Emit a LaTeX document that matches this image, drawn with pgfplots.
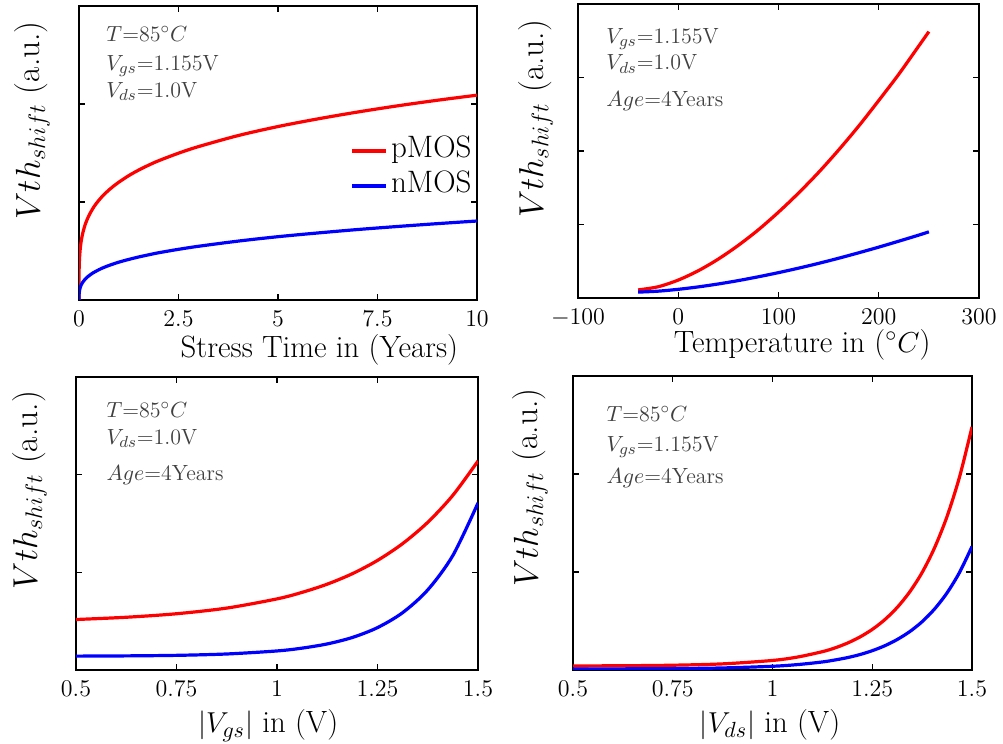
\documentclass[border=0pt]{standalone}
\usepackage{pgfplots}
\pgfplotsset{compat=1.18}

\pgfplotstableread{
t p n
0 0 0
0.002 0.271 0.053
0.005 0.337 0.071
0.01 0.398 0.088
0.02 0.470 0.110
0.03 0.518 0.126
0.045 0.571 0.143
0.06 0.612 0.157
0.08 0.656 0.172
0.1 0.692 0.185
0.15 0.763 0.210
0.2 0.817 0.231
0.27 0.878 0.254
0.35 0.935 0.276
0.42 0.977 0.292
0.5 1.018 0.309
0.6 1.064 0.328
0.75 1.122 0.352
0.85 1.156 0.366
1 1.202 0.386
1.25 1.269 0.414
1.5 1.326 0.439
1.75 1.376 0.461
2 1.421 0.482
2.5 1.498 0.517
3 1.565 0.548
4 1.678 0.601
5 1.770 0.646
6 1.848 0.684
7 1.918 0.719
8 1.981 0.750
9 2.038 0.779
10 2.090 0.806
}\tabtime

\pgfplotstableread{
T p
-40 0.110
-20 0.153
0 0.244
20 0.371
40 0.530
60 0.717
80 0.929
100 1.168
120 1.428
140 1.709
160 2.014
180 2.339
200 2.687
220 3.045
240 3.430
250 3.624
}\tabtempp

\pgfplotstableread{
T n
-40 0.080
-20 0.093
0 0.118
20 0.151
40 0.191
60 0.237
80 0.289
100 0.345
120 0.406
140 0.471
160 0.541
180 0.615
200 0.692
220 0.773
240 0.856
250 0.900
}\tabtempn

\pgfplotstableread{
v p n
0.5 0.517 0.142
0.625 0.540 0.1445
0.75 0.576 0.150
0.875 0.634 0.164
1.0 0.728 0.195
1.0625 0.795 0.224
1.125 0.879 0.267
1.1875 0.986 0.333
1.25 1.122 0.434
1.3125 1.294 0.587
1.375 1.512 0.820
1.4375 1.789 1.173
1.5 2.140 1.710
}\tabvgs

\pgfplotstableread{
v p n
0.5 0.0413 0.0106
0.625 0.0434 0.0116
0.75 0.0488 0.0142
0.875 0.0625 0.0208
1.0 0.0974 0.038
1.0625 0.132 0.055
1.125 0.187 0.082
1.15625 0.225 0.102
1.1875 0.274 0.126
1.21875 0.336 0.157
1.25 0.414 0.197
1.28125 0.513 0.247
1.3125 0.638 0.311
1.34375 0.796 0.391
1.375 0.995 0.493
1.40625 1.248 0.623
1.4375 1.567 0.787
1.46875 1.970 0.996
1.5 2.480 1.260
}\tabvds

\definecolor{anno}{RGB}{64,64,64}

\pgfplotsset{
  mystyle/.style={
    scale only axis,
    anchor=south west,
    axis line style={line width=0.75pt},
    tick style={line width=0.6pt, black},
    major tick length=3pt,
    tick pos=both,
    tick align=inside,
    yticklabels={},
    ticklabel style={font=\fontsize{12.75}{15}\selectfont},
    xticklabel style={yshift=-2pt},
    xlabel style={font=\fontsize{15.4}{18}\selectfont, anchor=base},
    ylabel style={font=\fontsize{16.7}{19}\selectfont, anchor=base, rotate=0},
    every axis plot/.append style={line width=1.6pt, no markers, smooth},
    clip=true,
  },
}

\newcommand{\ann}{\fontsize{11}{13}\selectfont\color{anno}}

\begin{document}
\begin{tikzpicture}
\useasboundingbox (0,0) rectangle (501.5pt,372pt);

% Panel 1
\begin{axis}[mystyle,
  at={(39.5pt,222pt)}, width=199pt, height=147pt,
  xmin=0, xmax=10, ymin=0, ymax=3,
  xtick={0,2.5,5,7.5,10}, ytick={1,2},
  xlabel={Stress Time in (Years)},
  xlabel style={at={(axis description cs:0.604,-0.194)}},
  ylabel={$Vth_{shift}$ (a.u.)},
  ylabel style={at={(axis description cs:-0.098,0.611)}},
  legend style={draw=none, fill=none, inner sep=0pt, row sep=0pt,
    at={(axis description cs:0.987,0.568)}, anchor=north east,
    font=\fontsize{15.5}{17.5}\selectfont,
    nodes={inner sep=0pt, text height=12pt, text depth=5.5pt},
    column sep=1.5pt},
  legend cell align=left,
  legend image code/.code={\draw[#1, line width=1.6pt] (0pt,0pt) -- (17pt,0pt);},
]
\addplot[red] table[x=t, y=p] {\tabtime};
\addlegendentry{pMOS}
\addplot[blue] table[x=t, y=n] {\tabtime};
\addlegendentry{nMOS}
\node[anchor=base west, font=\ann, inner sep=0pt] at (rel axis cs:0.068,0.878) {$T$=85$^\circ C$};
\node[anchor=base west, font=\ann, inner sep=0pt] at (rel axis cs:0.068,0.782) {$V_{gs}$=1.155V};
\node[anchor=base west, font=\ann, inner sep=0pt] at (rel axis cs:0.068,0.690) {$V_{ds}$=1.0V};
\end{axis}

% Panel 2
\begin{axis}[mystyle,
  at={(289pt,223pt)}, width=200.5pt, height=147pt,
  xmin=-100, xmax=300, ymin=0, ymax=4,
  xtick={-100,0,100,200,300}, ytick={1,2,3},
  xlabel={Temperature in ($^\circ C$)},
  xlabel style={at={(axis description cs:0.559,-0.184)}},
  ylabel={$Vth_{shift}$ (a.u.)},
  ylabel style={at={(axis description cs:-0.087,0.609)}},
]
\addplot[red] table[x=T, y=p] {\tabtempp};
\addplot[blue] table[x=T, y=n] {\tabtempn};
\node[anchor=base west, font=\ann, inner sep=0pt] at (rel axis cs:0.070,0.867) {$V_{gs}$=1.155V};
\node[anchor=base west, font=\ann, inner sep=0pt] at (rel axis cs:0.070,0.776) {$V_{ds}$=1.0V};
\node[anchor=base west, font=\ann, inner sep=0pt] at (rel axis cs:0.070,0.653) {$Age$=4Years};
\end{axis}

% Panel 3
\begin{axis}[mystyle,
  at={(38pt,37pt)}, width=201pt, height=146.5pt,
  xmin=0.5, xmax=1.5, ymin=0, ymax=3,
  xtick={0.5,0.75,1,1.25,1.5}, ytick={1,2},
  xticklabels={$0.5$,$0.75$,$1$,$1.25$,$1.5$},
  xlabel={$|V_{gs}|$ in (V)},
  xlabel style={at={(axis description cs:0.478,-0.215)}},
  ylabel={$Vth_{shift}$ (a.u.)},
  ylabel style={at={(axis description cs:-0.097,0.614)}},
]
\addplot[red] table[x=v, y=p] {\tabvgs};
\addplot[blue] table[x=v, y=n] {\tabvgs};
\node[anchor=base west, font=\ann, inner sep=0pt] at (rel axis cs:0.075,0.861) {$T$=85$^\circ C$};
\node[anchor=base west, font=\ann, inner sep=0pt] at (rel axis cs:0.075,0.771) {$V_{ds}$=1.0V};
\node[anchor=base west, font=\ann, inner sep=0pt] at (rel axis cs:0.075,0.646) {$Age$=4Years};
\end{axis}

% Panel 4
\begin{axis}[mystyle,
  at={(286.5pt,37pt)}, width=199.5pt, height=147pt,
  xmin=0.5, xmax=1.5, ymin=0, ymax=3,
  xtick={0.5,0.75,1,1.25,1.5}, ytick={1,2},
  xticklabels={$0.5$,$0.75$,$1$,$1.25$,$1.5$},
  xlabel={$|V_{ds}|$ in (V)},
  xlabel style={at={(axis description cs:0.494,-0.211)}},
  ylabel={$Vth_{shift}$ (a.u.)},
  ylabel style={at={(axis description cs:-0.088,0.620)}},
]
\addplot[red] table[x=v, y=p] {\tabvds};
\addplot[blue] table[x=v, y=n] {\tabvds};
\node[anchor=base west, font=\ann, inner sep=0pt] at (rel axis cs:0.083,0.845) {$T$=85$^\circ C$};
\node[anchor=base west, font=\ann, inner sep=0pt] at (rel axis cs:0.083,0.743) {$V_{gs}$=1.155V};
\node[anchor=base west, font=\ann, inner sep=0pt] at (rel axis cs:0.083,0.635) {$Age$=4Years};
\end{axis}
\end{tikzpicture}
\end{document}
